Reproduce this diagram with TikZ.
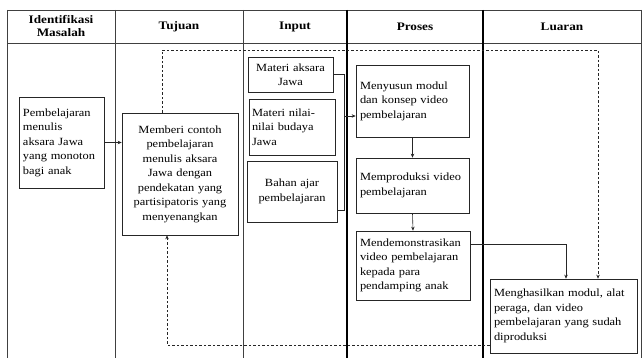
\documentclass[tikz,border=0pt]{standalone}
\usepackage{fontspec}
\setmainfont{Liberation Serif}[FakeStretch=1.13]
\newfontfamily\hdfont{Liberation Serif}[FakeStretch=1.15]
\usetikzlibrary{arrows.meta,calc}
\begin{document}
\begin{tikzpicture}[x=1pt,y=-1pt,
  box/.style={draw=black!85, line width=0.7pt, inner sep=3pt, font=\fontsize{11}{14.5}\selectfont},
  hd/.style={font=\hdfont\bfseries\fontsize{11.5}{13}\selectfont, align=center},
  tbl/.style={draw=black!75, line width=0.8pt},
  tblk/.style={draw=black, line width=1.2pt},
  arr/.style={-{Stealth[length=4pt,width=3.5pt]}, line width=0.6pt, draw=black!85},
  dsh/.style={dash pattern=on 2.5pt off 2pt}]
\useasboundingbox (0,0) rectangle (643,358);
% table
\draw[tbl] (7,10) -- (641,10);
\draw[tbl] (7,43) -- (641,43);
\draw[tbl] (7,10) -- (7,358);
\draw[tbl] (115,10) -- (115,358);
\draw[tbl] (243,10) -- (243,358);
\draw[tblk] (347,10) -- (347,358);
\draw[tblk] (483,10) -- (483,358);
\draw[tbl] (641,10) -- (641,358);
% headers
\node[hd] (h1) at (61,26.5) {Identifikasi\\Masalah};
\node[hd] (h2) at (179,26.5) {Tujuan};
\node[hd] (h3) at (295,26.5) {Input};
\node[hd] (h4) at (415,26.5) {Proses};
\node[hd] (h5) at (562,26.5) {Luaran};
% boxes
\node[box, minimum width=85pt, minimum height=91pt, text width=77pt, align=left] (b1) at (61.5,142.5)
  {Pembelajaran\\menulis\\aksara Jawa\\yang monoton\\bagi anak};
\node[box, minimum width=116pt, minimum height=122pt, text width=110pt, align=center] (tuj) at (180,174)
  {Memberi contoh\\pembelajaran\\menulis aksara\\Jawa dengan\\pendekatan yang\\partisipatoris yang\\menyenangkan};
\node[box, minimum width=85pt, minimum height=35pt, text width=79pt, align=center] (in1) at (290.5,74.5)
  {Materi aksara\\Jawa};
\node[box, minimum width=86pt, minimum height=56pt, text width=80pt, align=left] (in2) at (292,127)
  {Materi nilai-\\nilai budaya\\Jawa};
\node[box, minimum width=90pt, minimum height=61pt, text width=84pt, align=center] (in3) at (292,191.5)
  {Bahan ajar\\pembelajaran};
\node[box, minimum width=113pt, minimum height=72pt, text width=105pt, align=left] (p1) at (412.5,101)
  {Menyusun modul\\dan konsep video\\pembelajaran};
\node[box, minimum width=113pt, minimum height=55pt, text width=105pt, align=left] (p2) at (412.5,185.5)
  {Memproduksi video\\pembelajaran};
\node[box, minimum width=114pt, minimum height=69pt, text width=106pt, align=left] (p3) at (413,265.5)
  {Mendemonstrasikan\\video pembelajaran\\kepada para\\pendamping anak};
\node[box, minimum width=147pt, minimum height=74pt, text width=139pt, align=left] (L) at (563.5,316)
  {Menghasilkan modul, alat\\peraga, dan video\\pembelajaran yang sudah\\diproduksi};
% connectors
\draw[arr] (b1.east) -- (b1.east -| tuj.west);
\coordinate (bxt) at (344,74.5);
\coordinate (bxb) at (344,210);
\coordinate (bxm) at (344,116);
\draw[line width=0.6pt, draw=black!85] (in1.east) -- (bxt) -- (bxb) -- (bxb -| in3.east);
\draw[arr] (bxm) -- (bxm -| p1.west);
\draw[arr] (p1.south) -- (p2.north);
\draw[arr] (p2.south) -- (p3.north);
\coordinate (pr) at (566,244);
\draw[arr] (pr -| p3.east) -- (pr) -- (pr |- L.north);
\coordinate (dt1) at (162,50);
\coordinate (dt2) at (598,50);
\draw[arr, dsh] (dt1 |- tuj.north) -- (dt1) -- (dt2) -- (dt2 |- L.north);
\coordinate (db) at (167,345);
\draw[arr, dsh] (db -| L.west) -- (db) -- (db |- tuj.south);
\end{tikzpicture}
\end{document}
